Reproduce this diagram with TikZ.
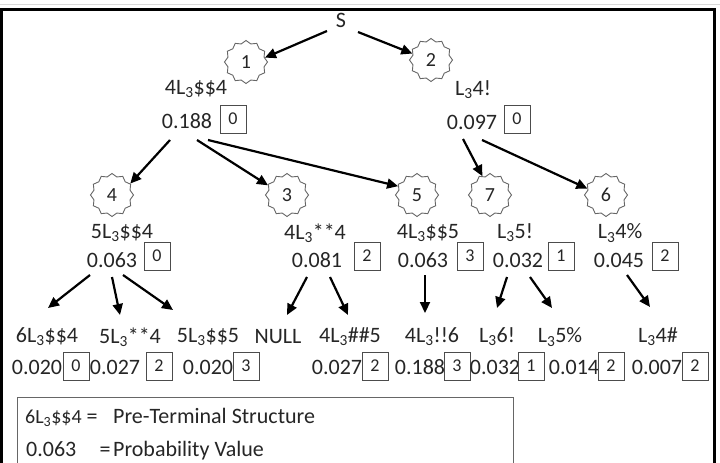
\documentclass[tikz,border=0pt]{standalone}
\usepackage{fontspec}
\setmainfont{Carlito}
\usetikzlibrary{shapes.geometric,arrows.meta}
\newcommand{\Lsub}{L\textsubscript{3}}
\begin{document}
\begin{tikzpicture}[x=1pt,y=-1pt,
 txt/.style={font=\fontsize{22}{24}\selectfont, inner sep=0pt, text=black!85},
 bx/.style={draw=black!70, line width=0.9pt, minimum width=26pt, minimum height=28pt, inner sep=0pt, font=\fontsize{18}{20}\selectfont, text=black!85},
 st/.style={star, star points=12, star point ratio=1.15, minimum size=43pt, draw=black!60, line width=0.9pt, inner sep=0pt, font=\fontsize{20}{22}\selectfont, text=black!85},
 arr/.style={-{Triangle[length=11pt,width=10pt]}, line width=2.2pt},
 frame/.style={line width=3pt},
 legend/.style={draw=black!60, line width=1pt}]
\useasboundingbox (0,0) rectangle (720,463);
\fill[white] (0,0) rectangle (720,463);
\draw[black!15, line width=1pt] (0,4) -- (720,4);
\draw[frame] (1.5,464) -- (1.5,9.5) -- (714.5,9.5) -- (714.5,464);

% root
\node[txt] (S) at (341,20) {S};
\node[st] (s1) at (246,62) {1};
\node[st] (s2) at (431,60) {2};

% level 1
\node[txt] (t1) at (196,89) {4\Lsub\$\$4};
\node[txt] (p1) at (187,121) {0.188};
\node[bx] (b1) at (233,119) {0};
\node[txt] (t2) at (473,90) {\Lsub4!};
\node[txt] (p2) at (472,122) {0.097};
\node[bx] (b2) at (517,119) {0};

% level 2 stars
\node[st] (s4) at (112,195) {4};
\node[st] (s3) at (287,195) {3};
\node[st] (s5) at (417,195) {5};
\node[st] (s7) at (490,195) {7};
\node[st] (s6) at (606,195) {6};

% level 2 texts
\node[txt] (t4) at (122,233) {5\Lsub\$\$4};
\node[txt] (p4) at (112,260) {0.063};
\node[bx] (b4) at (157,256) {0};
\node[txt] (t3) at (315,233) {4\Lsub**4};
\node[txt] (p3) at (317,260) {0.081};
\node[bx] (b3) at (367,256) {2};
\node[txt] (t5) at (428,233) {4\Lsub\$\$5};
\node[txt] (p5) at (423,260) {0.063};
\node[bx] (b5) at (470,256) {3};
\node[txt] (t7) at (515,233) {\Lsub5!};
\node[txt] (p7) at (518,260) {0.032};
\node[bx] (b7) at (561,256) {1};
\node[txt] (t6) at (620,233) {\Lsub4\%};
\node[txt] (p6) at (619,260) {0.045};
\node[bx] (b6) at (665,256) {2};

% level 3
\node[txt] (la) at (47,337) {6\Lsub\$\$4};
\node[txt] (qa) at (37,367) {0.020};
\node[bx] (ca) at (76,366) {0};
\node[txt] (lb) at (130,337) {5\Lsub**4};
\node[txt] (qb) at (115,367) {0.027};
\node[bx] (cb) at (159,366) {2};
\node[txt] (lc) at (208,337) {5\Lsub\$\$5};
\node[txt] (qc) at (208,367) {0.020};
\node[bx] (cc) at (246,366) {3};
\node[txt] (ld) at (278,337) {NULL};
\node[txt] (le) at (350,337) {4\Lsub\#\#5};
\node[txt] (qe) at (337,367) {0.027};
\node[bx] (ce) at (375,366) {2};
\node[txt] (lf) at (432,337) {4\Lsub!!6};
\node[txt] (qf) at (420,367) {0.188};
\node[bx] (cf) at (457,366) {3};
\node[txt] (lg) at (497,337) {\Lsub6!};
\node[txt] (qg) at (495,367) {0.032};
\node[bx] (cg) at (531,366) {1};
\node[txt] (lh) at (560,337) {\Lsub5\%};
\node[txt] (qh) at (574,367) {0.014};
\node[bx] (ch) at (611,366) {2};
\node[txt] (li) at (658,337) {\Lsub4\#};
\node[txt] (qi) at (657,367) {0.007};
\node[bx] (ci) at (695,366) {2};

% arrows
\draw[arr] ([xshift=-14pt,yshift=-11pt]S.center) -- (s1.13);
\draw[arr] ([xshift=17pt,yshift=-12pt]S.center) -- (s2.161);
\draw[arr] ([xshift=-17pt,yshift=-19pt]p1.center) -- (s4.32);
\draw[arr] ([xshift=10pt,yshift=-19pt]p1.center) -- (s3.153);
\draw[arr] ([xshift=21pt,yshift=-19pt]p1.center) -- (s5.155);
\draw[arr] ([xshift=-9pt,yshift=-17pt]p2.center) -- (s7.112);
\draw[arr] ([xshift=10pt,yshift=-18pt]p2.center) -- (s6.161);

\draw[arr] ([xshift=-22pt,yshift=-15pt]p4.center) -- ([xshift=1pt,yshift=29pt]la.center);
\draw[arr] ([xshift=0pt,yshift=-17pt]p4.center) -- ([xshift=-10pt,yshift=22pt]lb.center);
\draw[arr] ([xshift=11pt,yshift=-15pt]p4.center) -- ([xshift=-35pt,yshift=27pt]lc.center);
\draw[arr] ([xshift=-10pt,yshift=-17pt]p3.center) -- ([xshift=9pt,yshift=22pt]ld.center);
\draw[arr] ([xshift=13pt,yshift=-17pt]p3.center) -- ([xshift=-2pt,yshift=22pt]le.center);
\draw[arr] ([xshift=2pt,yshift=-15pt]p5.center) -- ([xshift=-7pt,yshift=24pt]lf.center);
\draw[arr] ([xshift=-11pt,yshift=-17pt]p7.center) -- ([xshift=0pt,yshift=29pt]lg.center);
\draw[arr] ([xshift=12pt,yshift=-17pt]p7.center) -- ([xshift=-8pt,yshift=29pt]lh.center);
\draw[arr] ([xshift=8pt,yshift=-15pt]p6.center) -- ([xshift=-8pt,yshift=30pt]li.center);

% legend
\draw[legend] (17,464) -- (17,397) -- (513,397) -- (513,464);
\node[txt, anchor=base west, font=\fontsize{20}{22}\selectfont] (k1) at (25,423) {6\Lsub\$\$4};
\node[txt, anchor=base] (e1) at (92,423) {=};
\node[txt, anchor=base west] (d1) at (113,423) {Pre-Terminal Structure};
\node[txt, anchor=base west] (k2) at (26,456) {0.063};
\node[txt, anchor=base] (e2) at (105,456) {=};
\node[txt, anchor=base west] (d2) at (113,456) {Probability Value};
\end{tikzpicture}
\end{document}
